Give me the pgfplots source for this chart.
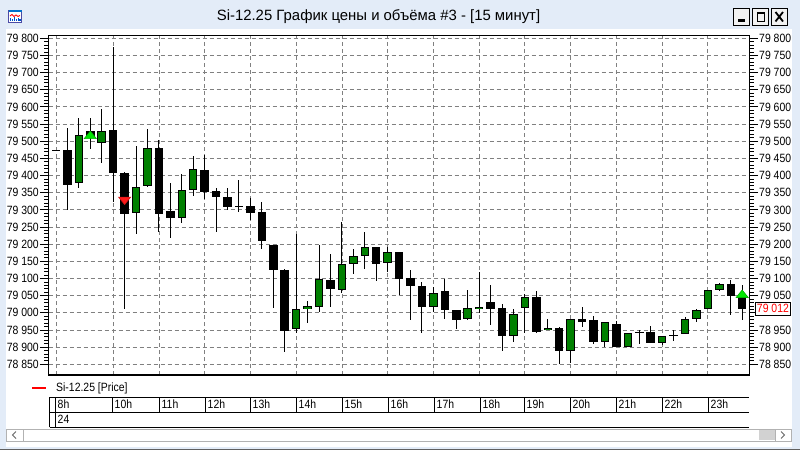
\documentclass[border=0pt]{standalone}
\usepackage{pgfplots}
\pgfplotsset{compat=1.18}
\usepackage{pgfplotstable}
\usepackage{fontspec}
\setmainfont{Liberation Sans}
\newfontfamily\uif{Liberation Sans}[FakeStretch=0.87]
\newfontfamily\uit{Liberation Sans}
\newcommand\tickf{\uif\fontsize{12}{13}\selectfont}
\newcommand\titlef{\uit\fontsize{14.9}{16}\selectfont}
\definecolor{cgreen}{HTML}{008000}
\definecolor{tgreen}{HTML}{00E600}
\definecolor{tgreenD}{HTML}{00B000}
\definecolor{tred}{HTML}{FF1A1A}
\definecolor{gridc}{HTML}{808080}
\definecolor{winbg}{HTML}{E3ECF8}

% 15-minute candles, index 0 = 8:45
\pgfplotstableread{
i O H L C
0 79475 79476 79474 79475
1 79476 79538 79300 79373
3 79530 79570 79478 79510
5 79532 79775 79323 79408
6 79407 79410 79010 79288
9 79480 79504 79238 79288
10 79297 79379 79218 79277
13 79418 79459 79331 79352
14 79356 79365 79236 79338
15 79337 79365 79299 79309
16 79312 79389 79294 79312
17 79313 79336 79270 79292
18 79293 79323 79186 79210
19 79200 79200 79014 79125
20 79125 79128 78887 78948
24 79097 79171 79017 79070
28 79191 79191 79094 79144
30 79177 79177 79052 79100
31 79101 79125 78980 79080
32 79081 79089 78942 79018
34 79063 79101 78983 79010
35 79008 79008 78952 78979
38 79032 79082 78965 79013
39 79014 79026 78890 78934
42 79048 79063 78942 78947
44 78958 78960 78853 78890
46 78983 79019 78960 78974
47 78981 78991 78910 78916
49 78970 78977 78902 78902
51 78945 78952 78912 78945
52 78947 78962 78914 78914
54 78936 78950 78920 78936
59 79085 79097 78994 79050
60 79048 79083 78982 79012
}\downc

\pgfplotstableread{
i O H L C
2 79379 79570 79364 79519
4 79496 79596 79437 79531
7 79291 79488 79230 79368
8 79368 79535 79366 79479
11 79277 79405 79262 79359
12 79359 79459 79341 79420
21 78952 79230 78943 79010
22 79010 79036 78971 79020
23 79018 79198 79003 79099
25 79068 79266 79057 79144
26 79144 79186 79113 79167
27 79167 79235 79128 79193
29 79144 79194 79120 79176
33 79018 79075 79003 79057
36 78982 79067 78980 79014
37 79013 79120 79002 79019
40 78935 79012 78917 78999
41 79014 79057 78941 79046
43 78951 78984 78951 78957
45 78888 78983 78855 78983
48 78914 78974 78900 78972
50 78902 78943 78902 78943
53 78914 78933 78907 78933
55 78937 78989 78937 78983
56 78983 79010 78974 79010
57 79010 79068 79010 79068
58 79068 79088 79065 79085
}\upc

\pgfplotsset{
  candleax/.style={
    at={(48.5pt,75pt)}, anchor=south west,
    scale only axis, width=701pt, height=339.5pt,
    xmin=-0.656, xmax=60.64, ymin=78819, ymax=79808,
    ytick={78850,78900,78950,79000,79050,79100,79150,79200,79250,79300,79350,79400,79450,79500,79550,79600,79650,79700,79750,79800},
    minor y tick num=4,
    scaled y ticks=false,
    tick align=outside,
    major tick length=8.5pt, minor tick length=4pt,
    every tick/.style={black, line width=0.9pt},
    yticklabel style={font=\tickf, inner sep=1pt},
  },
  cbar/.style 2 args={draw=none, mark=none, no markers, forget plot,
    error bars/.cd, y dir=both, y explicit, error mark=none,
    error bar style={draw=#1, line width=#2}},
}

\begin{document}
\begin{tikzpicture}[x=1pt,y=1pt]
\useasboundingbox (0,0) rectangle (800,450);
% window chrome
\fill[winbg] (0,0) rectangle (800,450);
\fill[white] (6,3) rectangle (792,421);
\fill[gray!75!black] (0,0) rectangle (800,1.5);
% icon
\draw[fill=white, draw=blue!50!black!70, line width=0.8pt] (8.5,428) rectangle (21.5,439.5);
\fill[blue!45!cyan!80!black] (8.5,437.5) rectangle (21.5,439.5);
\draw[red, line width=0.9pt] (10,434)--(12,435.5)--(14,433.5)--(16,435)--(18,433.5)--(20,434.5);
\foreach \bx/\bh in {10.5/3,12.5/2,14.5/4,16.5/2.5,18.5/3.5,20/2} \fill[blue!60!cyan!80!black] (\bx-0.55,428.5) rectangle (\bx+0.55,428.5+\bh);
% title
\node[font=\titlef, inner sep=0] at (378.5,433) {Si-12.25 График цены и объёма \#3 - [15 минут]};
% buttons
\foreach \bx in {733,752,771} \draw[black, fill=white!95!black, line width=0.9pt] (\bx,424.5) rectangle (\bx+16.5,442);
\fill[black] (737.5,428) rectangle (745,430.5);
\draw[black, line width=1pt] (757,428.5) rectangle (764,437); \fill[black] (756.5,435.5) rectangle (764.5,437.5);
\draw[black, line width=1.8pt] (775.5,428.5)--(783,438) (775.5,438)--(783,428.5);

% main axis
\begin{axis}[candleax,
  xtick={0,5,9,13,17,21,25,29,33,37,41,45,49,53,57},
  xticklabels={},
  x tick style={draw=none},
  ytick pos=left, yticklabel pos=left,
  yticklabels={78 850,78 900,78 950,79 000,79 050,79 100,79 150,79 200,79 250,79 300,79 350,79 400,79 450,79 500,79 550,79 600,79 650,79 700,79 750,79 800},
  grid=major,
  major grid style={gridc, dash pattern=on 4pt off 3pt, line width=0.8pt},
  axis line style={black, line width=1.1pt},
]
% wicks
\addplot[cbar={black}{1pt}]
  table[x=i, y expr={(\thisrow{H}+\thisrow{L})/2}, y error expr={(\thisrow{H}-\thisrow{L})/2}] {\downc};
\addplot[cbar={black}{1pt}]
  table[x=i, y expr={(\thisrow{H}+\thisrow{L})/2}, y error expr={(\thisrow{H}-\thisrow{L})/2}] {\upc};
% bodies, falling candles
\addplot[cbar={black}{8.5pt}]
  table[x=i, y expr={(\thisrow{O}+\thisrow{C})/2}, y error expr={max(abs(\thisrow{O}-\thisrow{C})/2,1.5)}] {\downc};
% bodies, rising candles
\addplot[cbar={black}{8.5pt}]
  table[x=i, y expr={(\thisrow{O}+\thisrow{C})/2}, y error expr={max(abs(\thisrow{O}-\thisrow{C})/2,1.5)}] {\upc};
\addplot[cbar={cgreen}{6.5pt}]
  table[x=i, y expr={(\thisrow{O}+\thisrow{C})/2}, y error expr={max(abs(\thisrow{O}-\thisrow{C})/2-2.9,0)}] {\upc};
% trade markers
\addplot[only marks, mark=triangle*, mark size=5pt,
  mark options={xscale=1.4, fill=tgreen, draw=tgreenD, line width=0.6pt}]
  coordinates {(3,79515) (60,79052)};
\addplot[only marks, mark=triangle*, mark size=5pt,
  mark options={rotate=180, xscale=1.4, fill=tred, draw=tred!80!black, line width=0.6pt}]
  coordinates {(6,79330)};
\end{axis}

% right axis
\begin{axis}[candleax,
  axis x line=none, axis y line*=right,
  axis line style={black, line width=1.1pt},
  ytick pos=right, yticklabel pos=right,
  yticklabels={78 850,78 900,78 950,{},79 050,79 100,79 150,79 200,79 250,79 300,79 350,79 400,79 450,79 500,79 550,79 600,79 650,79 700,79 750,79 800},
  clip=false,
]
\addplot[draw=none, mark=none] coordinates {(0,79000)};
\node[draw=black, line width=0.9pt, fill=white, text=red, font=\tickf, inner xsep=1.5pt, inner ysep=0pt,
  minimum height=13pt, anchor=west] at (axis cs:60.64,79012) [xshift=5.5pt] {79 012};
\end{axis}

% legend
\draw[red, line width=1.5pt] (32,62)--(46,62);
\node[anchor=west, font=\tickf, inner sep=0] at (56,62) {Si-12.25 [Price]};
% time table
\draw[line width=1pt] (49.5,53)--(749,53) (49.5,38)--(749,38) (49.5,23)--(749,23)
  (49.5,23)--(49.5,53) (55,23)--(55,53);
\foreach \xx in {112,159,205,250,296,342,388,434,480,524,570,616,662,708}
  \draw[line width=1pt] (\xx,38)--(\xx,53);
\foreach \xx/\lab in {55/8h,112/10h,159/11h,205/12h,250/13h,296/14h,342/15h,388/16h,434/17h,480/18h,524/19h,570/20h,616/21h,662/22h,708/23h}
  \node[anchor=west, inner sep=0, font=\tickf] at (\xx+2.5,45.5) {\lab};
\node[anchor=west, inner sep=0, font=\tickf] at (57.5,30.5) {24};
% scrollbar
\draw[gray!60, fill=white, line width=0.8pt] (6,9) rectangle (791,21);
\fill[gray!35] (759,10) rectangle (775,20);
\draw[gray!60, line width=0.8pt] (23,9)--(23,21) (775,9)--(775,21);
\draw[gray!80!black, line width=0.8pt] (16,18.5)--(12.5,15)--(16,11.5);
\draw[gray!80!black, line width=0.8pt] (781,18.5)--(784.5,15)--(781,11.5);
\end{tikzpicture}
\end{document}
